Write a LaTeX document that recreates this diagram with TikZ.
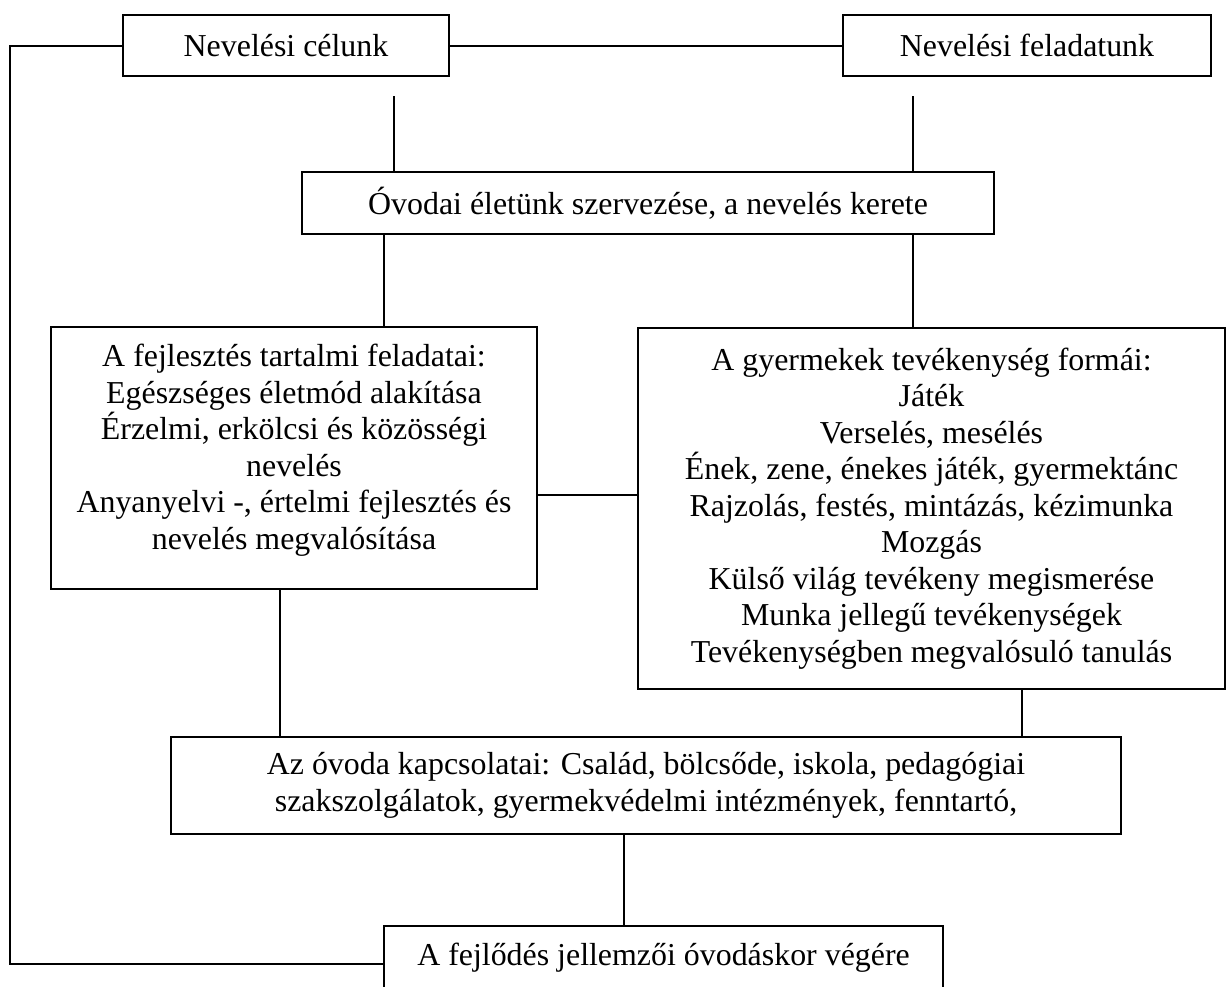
\documentclass[tikz,border=0pt]{standalone}
\usepackage{fontspec}
\setmainfont{Liberation Serif}
\usepackage{xcolor}
\usetikzlibrary{positioning}

\begin{document}
\begin{tikzpicture}[x=0.5pt,y=-0.5pt,
    doboz/.style={draw, line width=1pt, align=center, inner sep=0pt,
        font=\fontsize{15.95pt}{18.25pt}\selectfont},
    szoveg/.style={align=center, inner sep=0pt,
        font=\fontsize{15.95pt}{18.25pt}\selectfont},
    kotes/.style={line width=1pt}]
    \useasboundingbox (0,0) rectangle (1227,986);

    % dobozok
    \node[doboz, minimum width=163pt, minimum height=30.5pt] (celunk) at (286,45.5) {Nevelési célunk};
    \node[doboz, minimum width=184pt, minimum height=30.5pt] (feladat) at (1027,45.5) {Nevelési feladatunk};
    \node[doboz, minimum width=346pt, minimum height=31pt] (keret) at (648,203) {Óvodai életünk szervezése, a nevelés kerete};
    \node[doboz, minimum width=243pt, minimum height=131pt] (tartalmi) at (294,458) {};
    \node[szoveg] (tartalmiszoveg) at (294,450) {
        A fejlesztés tartalmi feladatai:\\
        Egészséges életmód alakítása\\
        Érzelmi, erkölcsi és közösségi\\
        nevelés\\
        Anyanyelvi -, értelmi fejlesztés és\\
        nevelés megvalósítása};
    \node[doboz, minimum width=293.5pt, minimum height=180.5pt] (formak) at (931.5,508.5) {
        A gyermekek tevékenység formái:\\
        Játék\\
        Verselés, mesélés\\
        Ének, zene, énekes játék, gyermektánc\\
        Rajzolás, festés, mintázás, kézimunka\\
        Mozgás\\
        Külső világ tevékeny megismerése\\
        Munka jellegű tevékenységek\\
        Tevékenységben megvalósuló tanulás};
    \node[doboz, minimum width=475pt, minimum height=48.5pt] (kapcsolat) at (646,785.5) {
        Az óvoda kapcsolatai: Család, bölcsőde, iskola, pedagógiai\\
        szakszolgálatok, gyermekvédelmi intézmények, fenntartó,};
    \node[doboz, minimum width=279.5pt, minimum height=32pt] (jellemzo) at (663.5,958) {A fejlődés jellemzői óvodáskor végére};

    % segedpontok
    \coordinate (bal) at (10,964);
    \coordinate (fent1) at (394,96);
    \coordinate (fent2) at (913,96);
    \coordinate (k1) at (384,0);
    \coordinate (k2) at (913,0);
    \coordinate (kozep) at (0,495);
    \coordinate (l1) at (280,0);
    \coordinate (l2) at (1022,0);
    \coordinate (l3) at (624,0);

    % kotesek
    \draw[kotes] (celunk.east) -- (feladat.west);
    \draw[kotes] (celunk.west) -| (bal) -- (jellemzo.west |- bal);
    \draw[kotes] (fent1) -- (fent1 |- keret.north);
    \draw[kotes] (fent2) -- (fent2 |- keret.north);
    \draw[kotes] (keret.south -| k1) -- (tartalmi.north -| k1);
    \draw[kotes] (keret.south -| k2) -- (formak.north -| k2);
    \draw[kotes] (tartalmi.east |- kozep) -- (formak.west |- kozep);
    \draw[kotes] (tartalmi.south -| l1) -- (kapcsolat.north -| l1);
    \draw[kotes] (formak.south -| l2) -- (kapcsolat.north -| l2);
    \draw[kotes] (kapcsolat.south -| l3) -- (jellemzo.north -| l3);
\end{tikzpicture}
\end{document}
